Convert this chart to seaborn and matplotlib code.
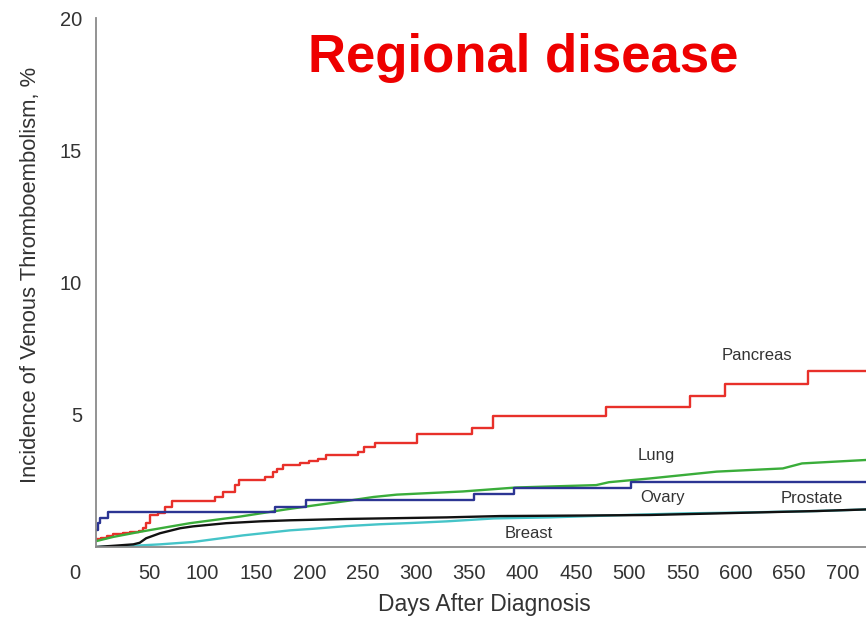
import matplotlib
matplotlib.use("Agg")
import matplotlib.pyplot as plt
import matplotlib.transforms as mtransforms
import seaborn as sns
import pandas as pd

# ---- data ----
pancreas_days = [0, 5, 10, 16, 25, 32, 40, 44, 47, 51, 58, 65, 71, 112, 119, 130, 134, 158, 166, 170, 175, 191, 200, 208, 216, 246, 251, 262, 301, 353, 372, 478, 557, 590, 668, 722]
pancreas_vals = [0.29, 0.35, 0.42, 0.48, 0.52, 0.57, 0.62, 0.72, 0.90, 1.21, 1.30, 1.52, 1.74, 1.90, 2.09, 2.33, 2.52, 2.64, 2.83, 2.96, 3.09, 3.17, 3.27, 3.34, 3.46, 3.59, 3.78, 3.93, 4.28, 4.51, 4.96, 5.30, 5.70, 6.15, 6.65, 6.65]

lung_days = [0, 16, 42, 88, 135, 178, 204, 235, 260, 282, 313, 344, 394, 469, 481, 519, 582, 644, 662, 722]
lung_vals = [0.22, 0.38, 0.58, 0.90, 1.15, 1.42, 1.57, 1.74, 1.89, 1.98, 2.04, 2.10, 2.25, 2.34, 2.45, 2.59, 2.85, 2.97, 3.16, 3.29]

ovary_days = [0, 2, 4, 11, 168, 197, 354, 392, 502, 722]
ovary_vals = [0.64, 0.90, 1.10, 1.33, 1.51, 1.76, 1.99, 2.22, 2.44, 2.44]

prostate_days = [0, 18, 35, 41, 47, 60, 79, 91, 122, 154, 182, 204, 235, 266, 297, 329, 379, 457, 519, 582, 644, 676, 722]
prostate_vals = [0.0, 0.05, 0.10, 0.16, 0.33, 0.52, 0.71, 0.78, 0.90, 0.97, 1.01, 1.03, 1.06, 1.08, 1.10, 1.12, 1.17, 1.19, 1.21, 1.27, 1.33, 1.36, 1.42]

breast_days = [0, 28, 60, 91, 138, 182, 204, 235, 266, 297, 329, 373, 426, 488, 551, 613, 676, 722]
breast_vals = [0.0, 0.03, 0.10, 0.19, 0.44, 0.63, 0.69, 0.79, 0.86, 0.91, 0.97, 1.08, 1.12, 1.20, 1.27, 1.31, 1.36, 1.42]

x_ticks = [0, 50, 100, 150, 200, 250, 300, 350, 400, 450, 500, 550, 600, 650, 700]
y_ticks = [5, 10, 15, 20]

title_text = "Regional disease"
x_label = "Days After Diagnosis"
y_label = "Incidence of Venous Thromboembolism, %"

# ---- figure ----
sns.set_style("white")
plt.rcParams["font.family"] = ["Liberation Sans", "DejaVu Sans"]

fig = plt.figure(figsize=(8.66, 6.19), dpi=100)
ax = fig.add_axes([96 / 866, 1 - 547 / 619, 1 - 96 / 866, (547 - 18) / 619])

series = [
    ("Pancreas", pancreas_days, pancreas_vals, "#e8302a", "steps-post"),
    ("Lung", lung_days, lung_vals, "#3aad3a", "default"),
    ("Ovary", ovary_days, ovary_vals, "#2c3593", "steps-post"),
    ("Breast", breast_days, breast_vals, "#45c4c8", "default"),
    ("Prostate", prostate_days, prostate_vals, "#111111", "default"),
]

for name, d, v, c, ds in series:
    df = pd.DataFrame({"day": d, "incidence": v})
    sns.lineplot(data=df, x="day", y="incidence", ax=ax, color=c,
                 linewidth=1.7, drawstyle=ds, estimator=None, sort=False)

ax.set_xlim(0, 722)
ax.set_ylim(0, 20)

ax.set_xticks(x_ticks)
ax.set_xticklabels([str(t) for t in x_ticks])
ax.set_yticks(y_ticks)
ax.set_yticklabels([str(t) for t in y_ticks])

sns.despine(ax=ax)
for sp in ["left", "bottom"]:
    ax.spines[sp].set_color("#8a8a8a")
    ax.spines[sp].set_linewidth(1.3)

ax.tick_params(axis="both", direction="out", length=6, width=1.1,
               color="#8a8a8a", labelsize=14.5, labelcolor="#333333", pad=6)
ax.tick_params(axis="y", pad=4)

# shift the "0" x label to the left as in the reference
offset = mtransforms.ScaledTranslation(-21 / 100, 0, fig.dpi_scale_trans)
lbl0 = ax.get_xticklabels()[0]
lbl0.set_transform(lbl0.get_transform() + offset)

ax.set_xlabel(x_label, fontsize=16.5, color="#333333")
ax.set_ylabel(y_label, fontsize=15.8, color="#333333")
ax.xaxis.set_label_coords((484 - 96) / 770, -(605 - 547) / 529)
ax.yaxis.set_label_coords((31 - 96) / 770, (547 - 275) / 529)
ax.xaxis.label.set_va("center")
ax.yaxis.label.set_va("center")

# title
fig.text(523 / 866, 1 - 72 / 619, title_text, color="#ee0000", fontsize=38,
         fontweight="bold", ha="center", va="baseline")

# series labels
lab_kw = dict(fontsize=12, color="#333333", ha="center", va="center")
ax.text((757 - 96) / 1.0667, (547 - 355) / 26.47, "Pancreas", **lab_kw)
ax.text((656 - 96) / 1.0667, (547 - 455) / 26.47, "Lung", **lab_kw)
ax.text((663 - 96) / 1.0667, (547 - 497) / 26.47, "Ovary", **lab_kw)
ax.text((812 - 96) / 1.0667, (547 - 498) / 26.47, "Prostate", **lab_kw)
ax.text((529 - 96) / 1.0667, (547 - 533) / 26.47, "Breast", **lab_kw)

fig.savefig("out.png", dpi=100)
